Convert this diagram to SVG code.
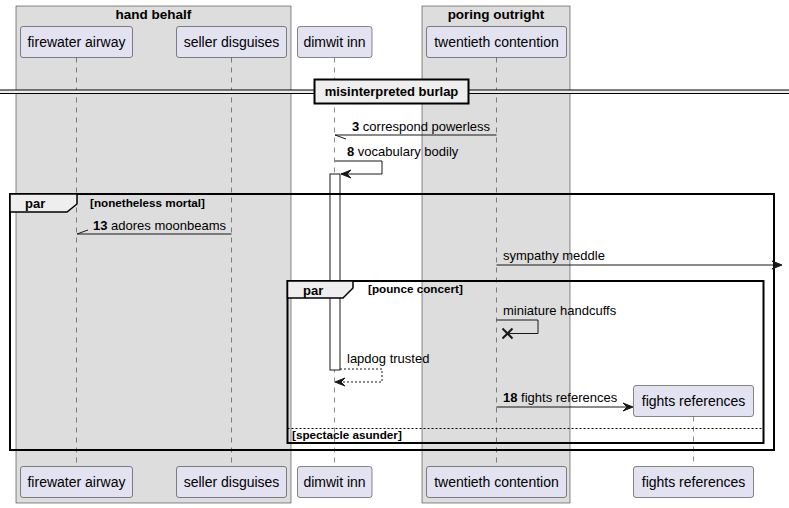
<svg xmlns="http://www.w3.org/2000/svg" width="789" height="508" viewBox="0 0 789 508">
<style>
text{font-family:"Liberation Sans",Arial,sans-serif;fill:#000}
.box{fill:#DDDDDD;stroke:#181818;stroke-width:0.5}
.bt{font-size:13.5px;font-weight:bold;text-anchor:middle}
.p rect{fill:#E2E2F0;stroke:#181818;stroke-width:0.5}
.p text{font-size:14px;text-anchor:middle}
.life{stroke:#181818;stroke-width:0.5;stroke-dasharray:5,5}
.msg{font-size:13px}
.b{font-weight:bold}
.ln{stroke:#181818;stroke-width:1;fill:none}
.ah{fill:#181818;stroke:#181818;stroke-width:1}
.frame{fill:none;stroke:#000;stroke-width:2}
.tab{fill:#EEEEEE;stroke:#000;stroke-width:1.5}
.gt{font-size:13px;font-weight:bold}
.gc{font-size:11.7px;font-weight:bold}
</style>
<g id="box-hand-behalf">
<rect class="box" x="16" y="6" width="275" height="497"/>
<text class="bt" x="153.5" y="19">hand behalf</text>
</g>
<g id="box-poring-outright">
<rect class="box" x="422" y="6" width="148" height="497"/>
<text class="bt" x="496" y="19">poring outright</text>
</g>
<g id="lifelines">
<line class="life" x1="76.5" y1="57.5" x2="76.5" y2="466.5"/>
<line class="life" x1="231.5" y1="57.5" x2="231.5" y2="466.5"/>
<line class="life" x1="334.5" y1="57.5" x2="334.5" y2="466.5"/>
<line class="life" x1="496.5" y1="57.5" x2="496.5" y2="466.5"/>
<line class="life" x1="693.5" y1="416.5" x2="693.5" y2="466.5"/>
</g>
<g id="firewater-airway" class="p">
<rect x="20.5" y="26.5" width="112" height="31" rx="2.5"/>
<text x="76.5" y="47">firewater airway</text>
<rect x="20.5" y="466.5" width="112" height="31" rx="2.5"/>
<text x="76.5" y="487">firewater airway</text>
</g>
<g id="seller-disguises" class="p">
<rect x="176.5" y="26.5" width="110" height="31" rx="2.5"/>
<text x="231.5" y="47">seller disguises</text>
<rect x="176.5" y="466.5" width="110" height="31" rx="2.5"/>
<text x="231.5" y="487">seller disguises</text>
</g>
<g id="dimwit-inn" class="p">
<rect x="297.5" y="26.5" width="74.5" height="31" rx="2.5"/>
<text x="334.5" y="47">dimwit inn</text>
<rect x="297.5" y="466.5" width="74.5" height="31" rx="2.5"/>
<text x="334.5" y="487">dimwit inn</text>
</g>
<g id="twentieth-contention" class="p">
<rect x="426.5" y="26.5" width="140" height="31" rx="2.5"/>
<text x="496.5" y="47">twentieth contention</text>
<rect x="426.5" y="466.5" width="140" height="31" rx="2.5"/>
<text x="496.5" y="487">twentieth contention</text>
</g>
<g id="fights-references" class="p">
<rect x="633.5" y="385.5" width="120" height="31" rx="2.5"/>
<text x="693.5" y="406">fights references</text>
<rect x="633.5" y="466.5" width="120" height="31" rx="2.5"/>
<text x="693.5" y="487">fights references</text>
</g>
<g id="activation-dimwit">
<rect x="330" y="174" width="10" height="196" fill="#FFFFFF" stroke="#181818" stroke-width="1"/>
</g>
<g id="divider">
<rect x="0" y="90" width="789" height="3" fill="#EEEEEE"/>
<line x1="0" y1="90" x2="789" y2="90" stroke="#000" stroke-width="1"/>
<line x1="0" y1="93.5" x2="789" y2="93.5" stroke="#000" stroke-width="1"/>
<rect x="314.5" y="79.5" width="154" height="24" fill="#EEEEEE" stroke="#000" stroke-width="2"/>
<text class="gt" x="391.5" y="96" text-anchor="middle">misinterpreted burlap</text>
</g>
<g id="par-outer">
<rect class="frame" x="10" y="194" width="764" height="256"/>
<path class="tab" d="M10,194 L77,194 L77,204 L67,212 L10,212 Z"/>
<text class="gt" x="25" y="208">par</text>
<text class="gc" x="90" y="207">[nonetheless mortal]</text>
</g>
<g id="par-inner">
<rect class="frame" x="287.5" y="281" width="476" height="162"/>
<path class="tab" d="M287.5,281 L353,281 L353,288 L343,298 L287.5,298 Z"/>
<text class="gt" x="303" y="295">par</text>
<text class="gc" x="368" y="293">[pounce concert]</text>
<line x1="287.5" y1="428.5" x2="763.5" y2="428.5" stroke="#000" stroke-width="1" stroke-dasharray="2,2"/>
<text class="gc" x="292" y="439">[spectacle asunder]</text>
</g>
<g id="connectors">
<line class="ln" x1="335" y1="135" x2="496.5" y2="135"/>
<line class="ln" x1="335" y1="135" x2="346" y2="139"/>
<text class="msg" x="352" y="131"><tspan class="b">3</tspan> correspond powerless</text>
<polyline class="ln" points="335,161 382,161 382,174 341,174"/>
<polygon class="ah" points="351,170 341,174 351,178 347,174"/>
<text class="msg" x="347" y="156"><tspan class="b">8</tspan> vocabulary bodily</text>
<line class="ln" x1="77" y1="234" x2="231.5" y2="234"/>
<line class="ln" x1="77" y1="234" x2="88" y2="230"/>
<text class="msg" x="93" y="230"><tspan class="b">13</tspan> adores moonbeams</text>
<line class="ln" x1="496.5" y1="265" x2="780" y2="265"/>
<polygon class="ah" points="772,261 782,265 772,269 776,265"/>
<text class="msg" x="503" y="260">sympathy meddle</text>
<polyline class="ln" points="496.5,320 538,320 538,333.5 508,333.5"/>
<line x1="502.5" y1="328.5" x2="512.5" y2="338.5" stroke="#181818" stroke-width="2"/>
<line x1="502.5" y1="338.5" x2="512.5" y2="328.5" stroke="#181818" stroke-width="2"/>
<text class="msg" x="503" y="315">miniature handcuffs</text>
<polyline class="ln" points="340,369 382,369 382,382 336,382" stroke-dasharray="2,2"/>
<polygon class="ah" points="345,378 335,382 345,386 341,382"/>
<text class="msg" x="347" y="363">lapdog trusted</text>
<line class="ln" x1="496.5" y1="407" x2="631" y2="407"/>
<polygon class="ah" points="623,403 633,407 623,411 627,407"/>
<text class="msg" x="503" y="402"><tspan class="b">18</tspan> fights references</text>
</g>
</svg>
